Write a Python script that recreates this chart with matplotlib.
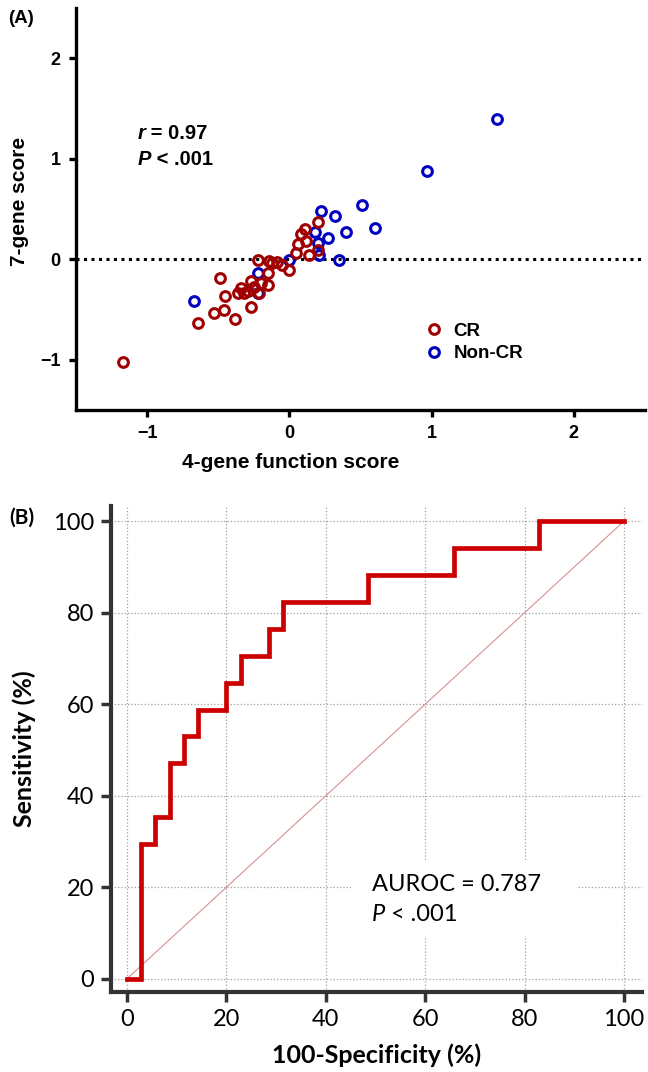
import matplotlib
matplotlib.use('Agg')
import matplotlib.pyplot as plt
from matplotlib.patches import Rectangle

# ---- data ----
# panel A: 4-gene function score vs 7-gene score
cr_x = [-1.17, -0.64, -0.53, -0.46, -0.45, -0.49, -0.38, -0.27, -0.36, -0.32,
        -0.34, -0.21, -0.27, -0.20, -0.15, -0.15, -0.22, -0.14, -0.09, -0.12,
        -0.05, 0.00, 0.05, 0.06, 0.08, 0.11, 0.12, 0.14, 0.20, 0.20, -0.29, -0.25]
cr_y = [-1.02, -0.63, -0.53, -0.50, -0.37, -0.19, -0.59, -0.47, -0.34, -0.34,
        -0.29, -0.34, -0.22, -0.24, -0.26, -0.14, -0.01, -0.02, -0.03, -0.04,
        -0.06, -0.11, 0.06, 0.15, 0.25, 0.30, 0.18, 0.04, 0.37, 0.09, -0.32, -0.28]
noncr_x = [-0.67, -0.22, -0.22, 0.00, 0.18, 0.20, 0.21, 0.22, 0.27, 0.32,
           0.35, 0.40, 0.51, 0.60, 0.97, 1.46]
noncr_y = [-0.42, -0.34, -0.14, -0.01, 0.27, 0.16, 0.04, 0.48, 0.21, 0.43,
           -0.01, 0.27, 0.54, 0.31, 0.88, 1.40]
a_ticks = [-1, 0, 1, 2]

# panel B: ROC curve (step corners, 100-specificity vs sensitivity)
roc_fpr = [0, 2.86, 5.71, 8.57, 11.43, 14.29, 20.0, 22.86, 28.57, 31.43,
           48.57, 65.71, 82.86, 100]
roc_sens = [0, 29.41, 35.29, 47.06, 52.94, 58.82, 64.71, 70.59, 76.47, 82.35,
            88.24, 94.12, 100, 100]
b_ticks = [0, 20, 40, 60, 80, 100]

red_a = '#a00000'
blue_a = '#0000c0'

plt.rcParams['font.family'] = ['Liberation Sans', 'DejaVu Sans']

fig = plt.figure(figsize=(6.48, 10.72), dpi=100)


def parts_text(ax, x, y, parts, **kw):
    # put pieces of text one after another (italic letter + plain rest)
    t = None
    for s, style in parts:
        if t is None:
            t = ax.text(x, y, s, transform=ax.transAxes, fontstyle=style,
                        ha='left', va='bottom', **kw)
        else:
            t = ax.annotate(s, xy=(1, 0), xycoords=t, fontstyle=style,
                            ha='left', va='bottom', **kw)
    return t


# ---------------- panel A ----------------
axA = fig.add_axes([0.1173, 0.6175, 0.878, 0.375])
axA.axhline(0, color='black', ls=(0, (1, 1.45)), lw=2.2, zorder=1)
axA.plot(cr_x, cr_y, 'o', ls='none', ms=7, mfc='none', mec=red_a, mew=2.2,
         label='CR', zorder=3)
axA.plot(noncr_x, noncr_y, 'o', ls='none', ms=7, mfc='none', mec=blue_a,
         mew=2.2, label='Non-CR', zorder=2)
axA.set_xlim(-1.5, 2.5)
axA.set_ylim(-1.5, 2.5)
axA.set_xticks(a_ticks)
axA.set_yticks(a_ticks)
for s in ['top', 'right']:
    axA.spines[s].set_visible(False)
for s in ['left', 'bottom']:
    axA.spines[s].set_linewidth(2.4)
axA.tick_params(width=2.4, length=5, labelsize=13, pad=6)
for lab in axA.get_xticklabels() + axA.get_yticklabels():
    lab.set_fontweight('bold')
axA.set_xlabel('4-gene function score', fontsize=15, fontweight='bold',
               x=0.378, labelpad=8)
axA.set_ylabel('7-gene score', fontsize=15, fontweight='bold', y=0.52,
               labelpad=8)
leg = axA.legend(loc='center left', bbox_to_anchor=(0.612, 0.168),
                 frameon=False, handlelength=1.0, handletextpad=0.55,
                 borderpad=0, borderaxespad=0, labelspacing=0.3,
                 prop={'weight': 'bold', 'size': 13.5})
parts_text(axA, 0.108, 0.665, [('r', 'italic'), (' = 0.97', 'normal')],
           fontsize=14.5, fontweight='bold')
parts_text(axA, 0.108, 0.600, [('P', 'italic'), (' < .001', 'normal')],
           fontsize=14.5, fontweight='bold')
fig.text(0.012, 0.983, '(A)', fontsize=13.5, fontweight='bold', va='center')

# ---------------- panel B ----------------
axB = fig.add_axes([0.1707, 0.0746, 0.820, 0.4534])
axB.plot([0, 100], [0, 100], color='#d89090', lw=0.8, zorder=2)
axB.plot(roc_fpr, roc_sens, drawstyle='steps-post', color='#cc0000', lw=3.4,
         solid_joinstyle='miter', zorder=3)
axB.set_xlim(-3.3, 103.6)
axB.set_ylim(-2.9, 103.3)
axB.set_xticks(b_ticks)
axB.set_yticks(b_ticks)
axB.grid(True, color='#a0a0a0', ls=':', lw=0.9, zorder=0)
axB.set_axisbelow(True)
for s in ['top', 'right']:
    axB.spines[s].set_visible(False)
for s in ['left', 'bottom']:
    axB.spines[s].set_linewidth(3)
    axB.spines[s].set_color('#333333')
axB.tick_params(width=2.5, length=7, color='#333333', labelsize=17, pad=5)
for lab in axB.get_xticklabels() + axB.get_yticklabels():
    lab.set_fontfamily('Lato')
axB.set_xlabel('100-Specificity (%)', fontsize=18, fontweight='bold',
               family='Lato', labelpad=10)
axB.set_ylabel('Sensitivity (%)', fontsize=18, fontweight='bold',
               family='Lato', labelpad=12)
# white patch behind the annotation (grid is interrupted there)
axB.add_patch(Rectangle((45, 9.3), 45.5, 16.7, facecolor='white',
                        edgecolor='none', zorder=1))
axB.text(49.2, 20.6, 'AUROC = 0.787', fontsize=17, family='Lato',
         va='center', ha='left', zorder=4)
t = axB.text(49.2, 14.0, 'P', fontsize=17, family='Lato', fontstyle='italic',
             va='center', ha='left', zorder=4)
axB.annotate(' < .001', xy=(1, 0), xycoords=t, fontsize=17, family='Lato',
             va='bottom', ha='left', zorder=4)
fig.text(0.015, 0.517, '(B)', fontsize=15, family='Lato', fontweight='bold',
         va='center')

fig.savefig('out.png', dpi=100)
